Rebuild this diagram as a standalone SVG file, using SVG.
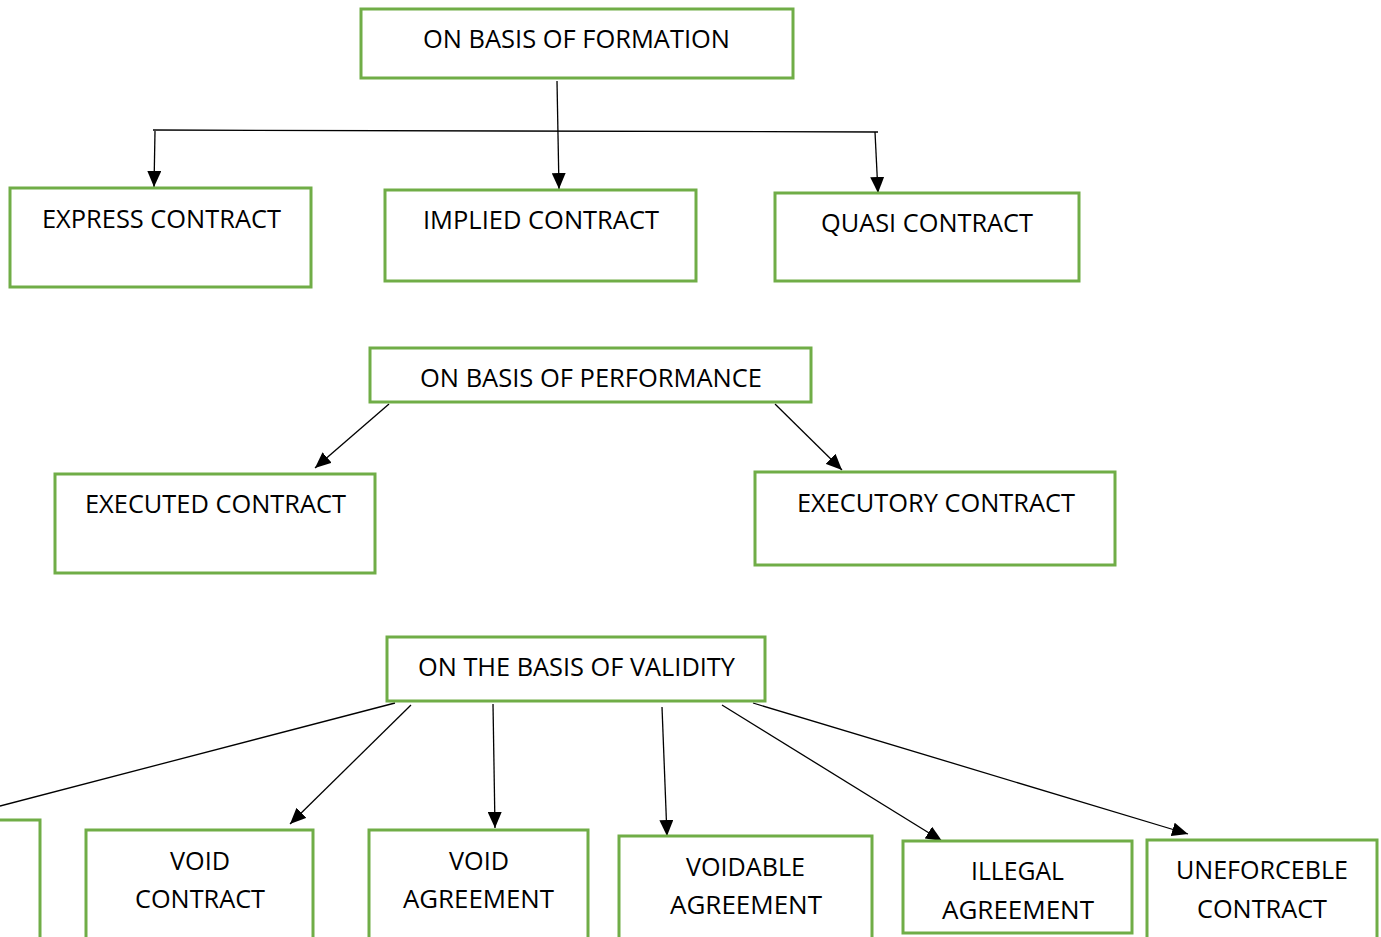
<svg xmlns="http://www.w3.org/2000/svg" width="1381" height="937" viewBox="0 0 1381 937">
<style>
.box{fill:#ffffff;stroke:#70AD47;stroke-width:3}
.t{font-family:"Open Sans","Noto Sans","Liberation Sans",sans-serif;font-size:26px;fill:#000000}
.ln{stroke:#000000;stroke-width:1.3;fill:none}
.ar{stroke:#000000;stroke-width:1.3;fill:none;marker-end:url(#ah)}
</style>
<defs>
<marker id="ah" markerUnits="userSpaceOnUse" markerWidth="16" markerHeight="14" refX="16" refY="7" orient="auto">
<path d="M0,0 L16,7 L0,14 z" fill="#000000"/>
</marker>
</defs>
<rect x="0" y="0" width="1381" height="937" fill="#ffffff"/>
<g id="connectors">
<line class="ln" x1="153" y1="130" x2="878" y2="132"/>
<line class="ar" x1="557" y1="81" x2="559" y2="189"/>
<line class="ar" x1="155" y1="131" x2="154" y2="187"/>
<line class="ar" x1="875" y1="132" x2="878" y2="193"/>
<line class="ar" x1="389" y1="404" x2="315" y2="468"/>
<line class="ar" x1="775" y1="404" x2="842" y2="470"/>
<line class="ln" x1="395" y1="703" x2="0" y2="806"/>
<line class="ar" x1="411" y1="705" x2="290" y2="824"/>
<line class="ar" x1="493" y1="704" x2="495" y2="828"/>
<line class="ar" x1="662" y1="707" x2="667" y2="836"/>
<line class="ar" x1="722" y1="705" x2="942" y2="841"/>
<line class="ar" x1="753" y1="703" x2="1188" y2="834"/>
</g>
<g id="formation">
<rect class="box" x="361" y="9" width="432" height="69"/>
<text class="t" x="423" y="48" textLength="307" lengthAdjust="spacingAndGlyphs">ON BASIS OF FORMATION</text>
</g>
<g id="express">
<rect class="box" x="10" y="188" width="301" height="99"/>
<text class="t" x="42" y="228" textLength="239" lengthAdjust="spacingAndGlyphs">EXPRESS CONTRACT</text>
</g>
<g id="implied">
<rect class="box" x="385" y="190" width="311" height="91"/>
<text class="t" x="423" y="229" textLength="236" lengthAdjust="spacingAndGlyphs">IMPLIED CONTRACT</text>
</g>
<g id="quasi">
<rect class="box" x="775" y="193" width="304" height="88"/>
<text class="t" x="821" y="232" textLength="212" lengthAdjust="spacingAndGlyphs">QUASI CONTRACT</text>
</g>
<g id="performance">
<rect class="box" x="370" y="348" width="441" height="54"/>
<text class="t" x="420" y="387" textLength="342" lengthAdjust="spacingAndGlyphs">ON BASIS OF PERFORMANCE</text>
</g>
<g id="executed">
<rect class="box" x="55" y="474" width="320" height="99"/>
<text class="t" x="85" y="513" textLength="261" lengthAdjust="spacingAndGlyphs">EXECUTED CONTRACT</text>
</g>
<g id="executory">
<rect class="box" x="755" y="472" width="360" height="93"/>
<text class="t" x="797" y="512" textLength="278" lengthAdjust="spacingAndGlyphs">EXECUTORY CONTRACT</text>
</g>
<g id="validity">
<rect class="box" x="387" y="637" width="378" height="64"/>
<text class="t" x="418" y="676" textLength="317" lengthAdjust="spacingAndGlyphs">ON THE BASIS OF VALIDITY</text>
</g>
<g id="partial">
<rect class="box" x="-20" y="820" width="60" height="130"/>
</g>
<g id="voidcontract">
<rect class="box" x="86" y="830" width="227" height="120"/>
<text class="t" x="170" y="870" textLength="60" lengthAdjust="spacingAndGlyphs">VOID</text>
<text class="t" x="135" y="908" textLength="130" lengthAdjust="spacingAndGlyphs">CONTRACT</text>
</g>
<g id="voidagreement">
<rect class="box" x="369" y="830" width="219" height="120"/>
<text class="t" x="449" y="870" textLength="60" lengthAdjust="spacingAndGlyphs">VOID</text>
<text class="t" x="403" y="908" textLength="151" lengthAdjust="spacingAndGlyphs">AGREEMENT</text>
</g>
<g id="voidable">
<rect class="box" x="619" y="836" width="253" height="120"/>
<text class="t" x="686" y="876" textLength="119" lengthAdjust="spacingAndGlyphs">VOIDABLE</text>
<text class="t" x="670" y="914" textLength="152" lengthAdjust="spacingAndGlyphs">AGREEMENT</text>
</g>
<g id="illegal">
<rect class="box" x="903" y="841" width="229" height="92"/>
<text class="t" x="971" y="880" textLength="93" lengthAdjust="spacingAndGlyphs">ILLEGAL</text>
<text class="t" x="942" y="919" textLength="152" lengthAdjust="spacingAndGlyphs">AGREEMENT</text>
</g>
<g id="unenforceable">
<rect class="box" x="1147" y="840" width="230" height="110"/>
<text class="t" x="1176" y="879" textLength="172" lengthAdjust="spacingAndGlyphs">UNEFORCEBLE</text>
<text class="t" x="1197" y="918" textLength="130" lengthAdjust="spacingAndGlyphs">CONTRACT</text>
</g>
</svg>
